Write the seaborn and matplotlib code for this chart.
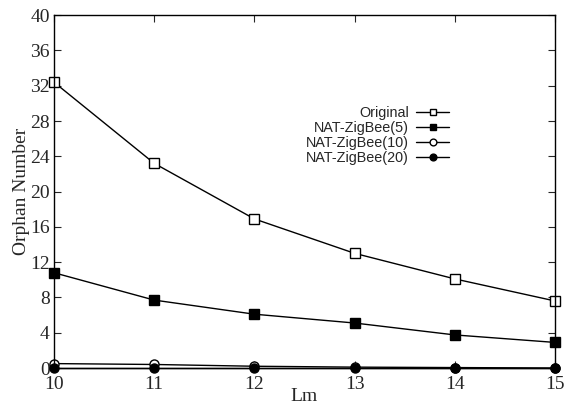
import numpy as np
import pandas as pd
import matplotlib
matplotlib.use("Agg")
import matplotlib.pyplot as plt
import seaborn as sns

lm = [10, 11, 12, 13, 14, 15]
original = [32.4, 23.2, 16.9, 13.0, 10.1, 7.6]
nat5 = [10.8, 7.7, 6.1, 5.1, 3.75, 2.9]
nat10 = [0.5, 0.4, 0.2, 0.1, 0.05, 0.0]
nat20 = [0.0, 0.0, 0.0, 0.0, 0.0, 0.0]

series = [
    ("Original", original, "s", "white"),
    ("NAT-ZigBee(5)", nat5, "s", "black"),
    ("NAT-ZigBee(10)", nat10, "o", "white"),
    ("NAT-ZigBee(20)", nat20, "o", "black"),
]

sns.set_style("ticks")
plt.rcParams["font.family"] = ["Liberation Serif", "DejaVu Serif"]

fig = plt.figure(figsize=(5.7, 4.07), dpi=100)
ax = fig.add_axes([0.0947, 0.0958, 0.879, 0.867])

for name, vals, mk, fc in series:
    df = pd.DataFrame({"Lm": lm, "val": vals})
    sns.lineplot(data=df, x="Lm", y="val", ax=ax, color="black", lw=1,
                 marker=mk, markersize=6.5, markerfacecolor=fc,
                 markeredgecolor="black", markeredgewidth=1, label=name,
                 clip_on=False)

ax.set_xlim(10, 15)
ax.set_ylim(0, 40)
ax.set_xticks(lm)
ax.set_yticks(np.arange(0, 41, 4))
ax.tick_params(direction="in", top=True, right=True, length=5, labelsize=14, width=0.8)
ax.tick_params(axis="y", pad=3)
ax.tick_params(axis="x", pad=6)
for s in ax.spines.values():
    s.set_linewidth(1)
    s.set_color("black")
ax.set_xlabel("Lm", fontsize=14, labelpad=-4)
ax.set_ylabel("Orphan Number", fontsize=14, labelpad=0)

leg = ax.legend(loc="upper right", bbox_to_anchor=(0.815, 0.78), frameon=False,
                markerfirst=False, handlelength=2.3, handletextpad=0.5,
                labelspacing=0.08, markerscale=0.75,
                prop={"family": "Liberation Sans", "size": 10.4})

plt.savefig("out.png", dpi=100)
